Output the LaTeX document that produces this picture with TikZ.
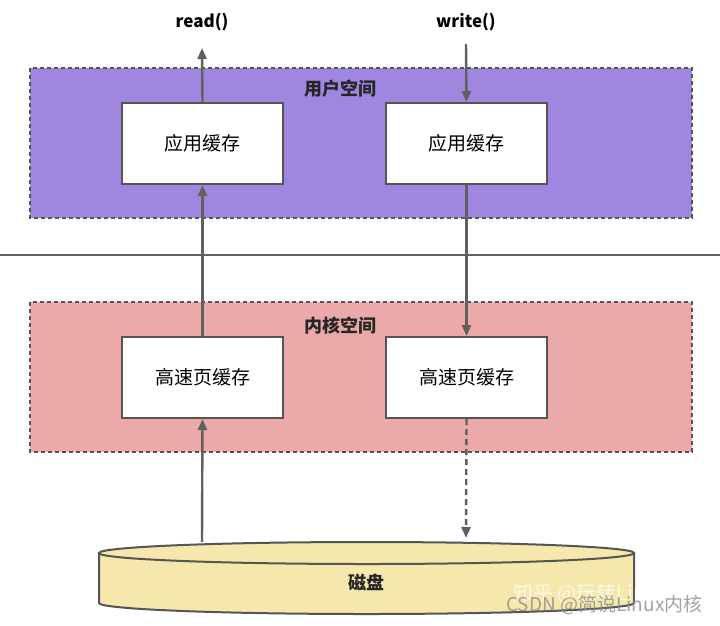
\documentclass[tikz,border=0pt]{standalone}
\usepackage{fontspec}
\setmainfont{Noto Sans CJK SC}
\usetikzlibrary{arrows.meta}
\definecolor{userbg}{RGB}{159,134,222}
\definecolor{kernbg}{RGB}{236,169,169}
\definecolor{diskbg}{RGB}{246,231,173}
\definecolor{edge}{RGB}{85,85,85}
\definecolor{arr}{RGB}{96,96,96}
\tikzset{
  region/.style={draw=edge, line width=2.2pt, dash pattern=on 4pt off 3pt, fill=#1},
  cachebox/.style={draw=edge, line width=2pt, fill=white, minimum width=161pt, minimum height=81pt, font=\fontsize{19}{22}\selectfont, inner sep=0pt},
  title/.style={font=\fontsize{18}{22}\selectfont\bfseries, text=black!85},
  flow/.style={draw=arr, line width=2.4pt, -{Triangle[length=11pt,width=9pt]}},
  dflow/.style={flow, dash pattern=on 6pt off 4pt},
}
\begin{document}
\begin{tikzpicture}[x=1pt,y=-1pt]
\useasboundingbox (0,0) rectangle (720,625);
\fill[white] (0,0) rectangle (720,625);
% regions
\draw[region=userbg] (30,68) rectangle (692,218);
\draw[region=kernbg] (30,302) rectangle (692,452);
\node[title] (ut) at (340,89) {用户空间};
\node[title] (kt) at (340,326) {内核空间};
% separator
\draw[draw=arr, line width=2pt] (0,255) -- (720,255);
% boxes
\node[cachebox] (a1) at (202.5,143.5) {应用缓存};
\node[cachebox] (a2) at (466.5,143.5) {应用缓存};
\node[cachebox] (k1) at (202.5,377.5) {高速页缓存};
\node[cachebox] (k2) at (466.5,377.5) {高速页缓存};
% labels
\node[font=\fontsize{17}{20}\selectfont\bfseries] (rd) at (202,22) {read()};
\node[font=\fontsize{17}{20}\selectfont\bfseries] (wr) at (466,22) {write()};
\coordinate (rdend) at (202,48);
\coordinate (wrstart) at (466,44);
% disk
\coordinate (dtop) at (202,542);
\fill[diskbg] (99,553) -- (99,603) arc[start angle=180,end angle=0,x radius=267.5,y radius=11] -- (634,553) arc[start angle=0,end angle=-180,x radius=267.5,y radius=11] -- cycle;
\draw[draw=edge, line width=2pt] (99,553) -- (99,603) arc[start angle=180,end angle=0,x radius=267.5,y radius=11] -- (634,553);
\draw[draw=edge, line width=2pt] (366.5,553) ellipse[x radius=267.5, y radius=11];
\node[title] (disk) at (366,582) {磁盘};
% arrows
\draw[flow] (a1.north) -- (rdend);
\draw[flow] (wrstart) -- (a2.north);
\draw[flow] (k1.north) -- (a1.south);
\draw[flow] (a2.south) -- (k2.north);
\draw[flow] (dtop) -- (k1.south);
\draw[dflow] (k2.south) -- (466,538);
% watermarks
\node[text=white, opacity=0.75, font=\fontsize{20}{22}\selectfont, anchor=east] (wm1) at (711,594) {知乎 @玩转Linux内核};
\node[text=black!45, opacity=0.8, font=\fontsize{19}{22}\selectfont, anchor=east] (wm2) at (706,605) {CSDN @简说Linux内核};
\end{tikzpicture}
\end{document}
